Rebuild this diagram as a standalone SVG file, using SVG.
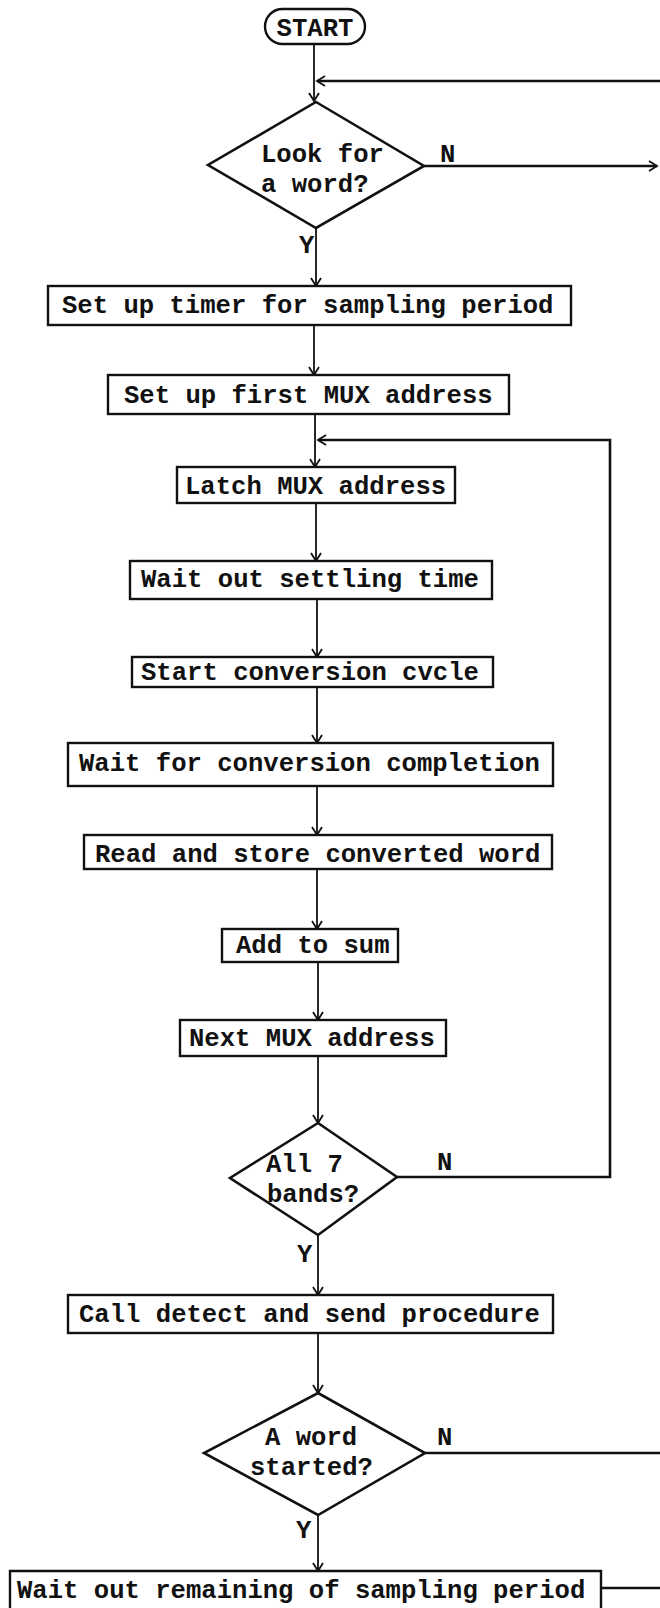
<svg xmlns="http://www.w3.org/2000/svg" width="660" height="1608" viewBox="0 0 660 1608">
  <defs>
    <marker id="arrow" markerUnits="userSpaceOnUse" markerWidth="14" markerHeight="14" viewBox="-10 -7 12 14" refX="0" refY="0" orient="auto">
      <path d="M-8,-5 L0,0 L-8,5" fill="none" stroke="#111" stroke-width="1.8"/>
    </marker>
    <style>
      .box { fill: #fff; stroke: #111; stroke-width: 2.4; }
      .dia { fill: #fff; stroke: #111; stroke-width: 2.6; stroke-linejoin: miter; }
      .line { fill: none; stroke: #111; stroke-width: 1.8; }
      .thick { stroke-width: 2.6; }
      .arr { marker-end: url(#arrow); }
      text { font-family: "Liberation Mono", "DejaVu Sans Mono", monospace; font-weight: bold; font-size: 25.6px; fill: #111; }
      .lbl { font-size: 24px; }
    </style>
  </defs>
  <rect width="660" height="1608" fill="#fff"/>

  <!-- connectors -->
  <g id="connectors">
    <path class="line arr" d="M314,44 V101"/>
    <path class="line thick arr" d="M660,81 H317"/>
    <path class="line thick arr" d="M424,166 H657"/>
    <path class="line arr" d="M316,228 V286"/>
    <path class="line arr" d="M314,325 V375"/>
    <path class="line arr" d="M315,414 V467"/>
    <path class="line thick arr" d="M396,1177 H610 V440 H318"/>
    <path class="line arr" d="M316,503 V561"/>
    <path class="line arr" d="M317,599 V657"/>
    <path class="line arr" d="M317,687 V743"/>
    <path class="line arr" d="M317,786 V835"/>
    <path class="line arr" d="M317,869 V929"/>
    <path class="line arr" d="M318,962 V1020"/>
    <path class="line arr" d="M318,1056 V1123"/>
    <path class="line arr" d="M318,1235 V1295"/>
    <path class="line arr" d="M318,1333 V1393"/>
    <path class="line thick" d="M425,1453 H660"/>
    <path class="line arr" d="M318,1515 V1571"/>
    <path class="line thick" d="M601,1588 H660"/>
  </g>

  <!-- branch labels -->
  <g id="labels">
    <text x="440" y="162">N</text>
    <text x="299" y="253">Y</text>
    <text x="437" y="1170">N</text>
    <text x="297" y="1262">Y</text>
    <text x="437" y="1445">N</text>
    <text x="296" y="1538">Y</text>
  </g>

  <g id="start">
    <rect class="box" x="265" y="9" width="100" height="35" rx="17.5"/>
    <text x="315" y="36" text-anchor="middle">START</text>
  </g>

  <g id="look-for-word">
    <polygon class="dia" points="316,102 424,166 316,228 208,165"/>
    <text x="261" y="162">Look for</text>
    <text x="261" y="192">a word?</text>
  </g>

  <g id="setup-timer">
    <rect class="box" x="48" y="286" width="523" height="39"/>
    <text x="62" y="313">Set up timer for sampling period</text>
  </g>

  <g id="setup-first-mux">
    <rect class="box" x="108" y="375" width="401" height="39"/>
    <text x="124" y="403">Set up first MUX address</text>
  </g>

  <g id="latch-mux">
    <rect class="box" x="177" y="467" width="278" height="36"/>
    <text x="185" y="494">Latch MUX address</text>
  </g>

  <g id="settling">
    <rect class="box" x="130" y="561" width="362" height="38"/>
    <text x="141" y="587">Wait out settling time</text>
  </g>

  <g id="start-conversion">
    <rect class="box" x="132" y="657" width="361" height="30"/>
    <text x="141" y="680">Start conversion cvcle</text>
  </g>

  <g id="wait-conversion">
    <rect class="box" x="68" y="743" width="485" height="43"/>
    <text x="79" y="771">Wait for conversion completion</text>
  </g>

  <g id="read-store">
    <rect class="box" x="84" y="835" width="468" height="34"/>
    <text x="95" y="862">Read and store converted word</text>
  </g>

  <g id="add-sum">
    <rect class="box" x="222" y="929" width="176" height="33"/>
    <text x="236" y="953">Add to sum</text>
  </g>

  <g id="next-mux">
    <rect class="box" x="180" y="1020" width="266" height="36"/>
    <text x="189" y="1046">Next MUX address</text>
  </g>

  <g id="all-bands">
    <polygon class="dia" points="318,1123 397,1177 318,1235 230,1178"/>
    <text x="266" y="1172">All 7</text>
    <text x="267" y="1202">bands?</text>
  </g>

  <g id="detect-send">
    <rect class="box" x="68" y="1295" width="485" height="38"/>
    <text x="79" y="1322">Call detect and send procedure</text>
  </g>

  <g id="word-started">
    <polygon class="dia" points="318,1393 425,1453 318,1515 204,1453"/>
    <text x="265" y="1445">A word</text>
    <text x="250" y="1475">started?</text>
  </g>

  <g id="wait-remaining">
    <path class="box" d="M10,1612 V1571 H601 V1612"/>
    <text x="17" y="1598">Wait out remaining of sampling period</text>
  </g>
</svg>
